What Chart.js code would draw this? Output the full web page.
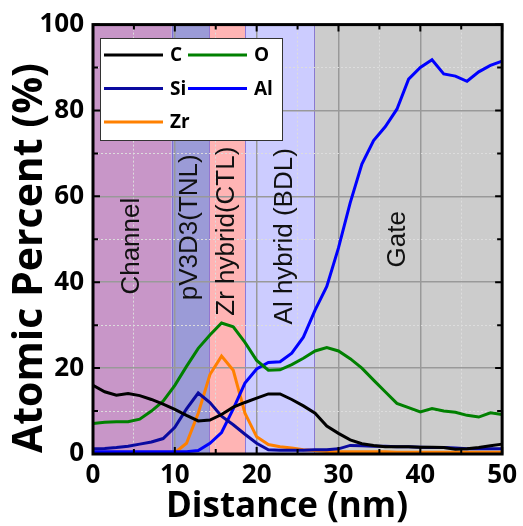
<!DOCTYPE html>
<html>
<head>
<meta charset="utf-8">
<script src="https://cdn.jsdelivr.net/npm/chart.js@4/dist/chart.umd.min.js"></script>
<style>
  body { margin: 0; background: #fff; }
  #wrap { width: 523px; height: 526px; position: relative; }
</style>
</head>
<body>
<div id="wrap"><canvas id="depthChart"></canvas></div>
<script>
// depth profile, distance in nm
const distance = [0, 1.43, 2.86, 4.29, 5.71, 7.14, 8.57, 10, 11.43, 12.86, 14.29, 15.71,
    17.14, 18.57, 20, 21.43, 22.86, 24.29, 25.71, 27.14, 28.57, 30, 31.43, 32.86,
    34.29, 35.71, 37.14, 38.57, 40, 41.43, 42.86, 44.29, 45.71, 47.14, 48.57, 50];

const carbon = [16.0, 14.5, 13.7, 14.1, 13.6, 12.7, 11.6, 10.4, 9.0, 7.7, 7.9, 9.2,
    10.9, 12.0, 13.0, 14.0, 14.0, 12.7, 11.2, 9.5, 6.5, 4.8, 3.3, 2.4,
    2.0, 1.7, 1.7, 1.7, 1.6, 1.6, 1.5, 1.1, 1.2, 1.5, 1.9, 2.3];
const oxygen = [7.1, 7.4, 7.5, 7.5, 8.1, 10.0, 12.3, 16.0, 20.4, 24.6, 27.7, 30.5,
    29.6, 26.0, 21.8, 19.5, 19.6, 20.8, 22.3, 24.0, 24.8, 24.0, 22.2, 20.0,
    17.2, 14.5, 11.8, 10.8, 9.8, 10.6, 10.0, 9.7, 9.0, 8.6, 9.6, 9.2];
const silicon = [1.2, 1.3, 1.5, 1.8, 2.3, 2.8, 3.6, 6.2, 10.5, 14.2, 12.0, 8.8,
    6.8, 4.6, 2.5, 1.0, 0.9, 0.9, 0.9, 1.0, 1.0, 1.2, 2.0, 1.9,
    1.8, 1.8, 1.7, 1.7, 1.6, 1.5, 1.5, 1.4, 1.2, 1.2, 1.2, 1.2];
const aluminum = [0.5, 0.5, 0.5, 0.5, 0.5, 0.5, 0.5, 0.5, 0.5, 0.8, 2.5, 5.0,
    10.5, 16.5, 19.8, 21.3, 21.5, 23.5, 27.2, 33.5, 39.0, 48.0, 58.5, 67.5,
    73.0, 76.2, 80.3, 87.3, 90.0, 91.8, 88.5, 88.0, 86.8, 89.0, 90.5, 91.5];
const zirconium = [0.2, 0.2, 0.2, 0.2, 0.2, 0.2, 0.2, 0.3, 2.5, 9.5, 18.5, 22.8,
    19.5, 9.5, 4.0, 2.2, 1.7, 1.4, 1.0, 0.8, 0.6, 0.5, 0.5, 0.5,
    0.5, 0.5, 0.4, 0.4, 0.4, 0.4, 0.4, 0.4, 0.4, 0.4, 0.4, 0.4];

const layerNames = ['Channel', 'pV3D3(TNL)', 'Zr hybrid(CTL)', 'Al hybrid (BDL)', 'Gate'];
const layerStart = [0, 9.6, 14.2, 18.6, 27.0];
const layerEnd = [9.6, 14.2, 18.6, 27.0, 50];

const xTitle = 'Distance (nm)';
const yTitle = 'Atomic Percent (%)';

const layerColors = ['#c896c8', '#9b9bd7', '#ffb4b4', '#ccccff', '#cccccc'];
// where each layer caption sits (nm, %)
const captionX = [4.8, 11.8, 16.4, 23.4, 37.2];
const captionY = [48.4, 52.8, 51.9, 50.7, 50.0];

const pts = ys => ys.map((y, i) => ({ x: distance[i], y: y }));

const layersPlugin = {
    id: 'layers',
    beforeDraw(chart) {
        const { ctx, chartArea: a, scales: { x } } = chart;
        ctx.save();
        layerNames.forEach((name, i) => {
            const x0 = x.getPixelForValue(layerStart[i]);
            const x1 = x.getPixelForValue(layerEnd[i]);
            ctx.fillStyle = layerColors[i];
            ctx.fillRect(x0, a.top, x1 - x0, a.bottom - a.top);
            if (i > 0) {
                ctx.strokeStyle = 'rgba(120,100,210,0.8)';
                ctx.lineWidth = 1;
                ctx.beginPath();
                ctx.moveTo(Math.round(x0) + 0.5, a.top);
                ctx.lineTo(Math.round(x0) + 0.5, a.bottom);
                ctx.stroke();
            }
        });
        ctx.restore();
    },
    beforeDatasetsDraw(chart) {
        const { ctx, scales: { x, y } } = chart;
        ctx.save();
        ctx.fillStyle = '#111';
        ctx.font = '26px "Liberation Sans", Arial, sans-serif';
        ctx.textAlign = 'center';
        ctx.textBaseline = 'middle';
        layerNames.forEach((name, i) => {
            ctx.save();
            ctx.translate(x.getPixelForValue(captionX[i]), y.getPixelForValue(captionY[i]));
            ctx.rotate(-Math.PI / 2);
            ctx.fillText(name, 0, 0);
            ctx.restore();
        });
        ctx.restore();
    },
    afterDatasetsDraw(chart) {
        const { ctx, chartArea: a, scales: { x, y } } = chart;
        ctx.save();
        // frame
        ctx.strokeStyle = '#000';
        ctx.lineWidth = 3;
        ctx.strokeRect(a.left, a.top, a.right - a.left, a.bottom - a.top);
        // inward ticks on all four sides
        ctx.lineWidth = 2;
        ctx.beginPath();
        for (let v = 0; v <= 50; v += 5) {
            const px = x.getPixelForValue(v);
            const len = v % 10 === 0 ? 7 : 5;
            ctx.moveTo(px, a.bottom); ctx.lineTo(px, a.bottom - len);
            ctx.moveTo(px, a.top); ctx.lineTo(px, a.top + len);
        }
        for (let v = 0; v <= 100; v += 10) {
            const py = y.getPixelForValue(v);
            const len = v % 20 === 0 ? 7 : 5;
            ctx.moveTo(a.left, py); ctx.lineTo(a.left + len, py);
            ctx.moveTo(a.right, py); ctx.lineTo(a.right - len, py);
        }
        ctx.stroke();

        // legend box, two columns
        const bx = 100, by = 38, bw = 182, bh = 102;
        ctx.fillStyle = '#fff';
        ctx.fillRect(bx, by, bw, bh);
        ctx.strokeStyle = '#333';
        ctx.lineWidth = 1;
        ctx.strokeRect(bx + 0.5, by + 0.5, bw, bh);
        ctx.font = 'bold 19px "Open Sans", sans-serif';
        ctx.textBaseline = 'middle';
        ctx.textAlign = 'left';
        chart.data.datasets.forEach((ds, i) => {
            const col = i % 2, row = Math.floor(i / 2);
            const lx = bx + 4 + col * 84;
            const ly = by + 17 + row * 33.5;
            ctx.strokeStyle = ds.borderColor;
            ctx.lineWidth = 3;
            ctx.beginPath();
            ctx.moveTo(lx, ly); ctx.lineTo(lx + 59, ly);
            ctx.stroke();
            ctx.fillStyle = '#000';
            ctx.fillText(ds.label, lx + 66, ly + 1);
        });

        // axis titles (Origin-style placement, not centred on plot)
        ctx.fillStyle = '#000';
        ctx.textAlign = 'center';
        ctx.textBaseline = 'alphabetic';
        ctx.font = 'bold 35px "Open Sans", sans-serif';
        ctx.fillText(xTitle, 287, 517);
        ctx.save();
        ctx.translate(42, 258);
        ctx.rotate(-Math.PI / 2);
        ctx.font = 'bold 41px "Open Sans", sans-serif';
        ctx.fillText(yTitle, 0, 0);
        ctx.restore();
        ctx.restore();
    }
};

const lineStyle = { borderWidth: 3, pointRadius: 0, fill: false, tension: 0 };

new Chart(document.getElementById('depthChart'), {
    type: 'line',
    data: {
        datasets: [
            { label: 'C', data: pts(carbon), borderColor: '#000000', ...lineStyle },
            { label: 'O', data: pts(oxygen), borderColor: '#008000', ...lineStyle },
            { label: 'Si', data: pts(silicon), borderColor: '#0a0aa0', ...lineStyle },
            { label: 'Al', data: pts(aluminum), borderColor: '#0000ff', ...lineStyle },
            { label: 'Zr', data: pts(zirconium), borderColor: '#ff8000', ...lineStyle }
        ]
    },
    options: {
        responsive: true,
        maintainAspectRatio: false,
        animation: false,
        layout: { padding: { top: 22, right: 17, left: 0, bottom: 0 } },
        plugins: { legend: { display: false }, tooltip: { enabled: false } },
        scales: {
            x: {
                type: 'linear',
                min: 0,
                max: 50,
                afterFit(s) { s.height = 72; },
                ticks: {
                    stepSize: 5,
                    autoSkip: false,
                    maxRotation: 0,
                    padding: 6,
                    color: '#000',
                    font: { family: 'Open Sans', weight: 'bold', size: 26 },
                    callback: v => (v % 10 === 0 ? v : '')
                },
                grid: {
                    drawTicks: false,
                    color: c => (c.tick && c.tick.value % 10 === 0 ? '#999999' : '#dddddd'),
                    lineWidth: c => (c.tick && c.tick.value % 10 === 0 ? 1.5 : 1)
                },
                border: {
                    display: false,
                    dash: c => (c.tick && c.tick.value % 10 === 0 ? [] : [2, 2])
                },
                title: { display: false }
            },
            y: {
                min: 0,
                max: 100,
                afterFit(s) { s.width = 93; },
                ticks: {
                    stepSize: 10,
                    autoSkip: false,
                    padding: 9,
                    color: '#000',
                    font: { family: 'Open Sans', weight: 'bold', size: 26 },
                    callback: v => (v % 20 === 0 ? v : '')
                },
                grid: {
                    drawTicks: false,
                    color: c => (c.tick && c.tick.value % 20 === 0 ? '#999999' : '#dddddd'),
                    lineWidth: c => (c.tick && c.tick.value % 20 === 0 ? 1.5 : 1)
                },
                border: {
                    display: false,
                    dash: c => (c.tick && c.tick.value % 20 === 0 ? [] : [2, 2])
                },
                title: { display: false }
            }
        }
    },
    plugins: [layersPlugin]
});
</script>
</body>
</html>
